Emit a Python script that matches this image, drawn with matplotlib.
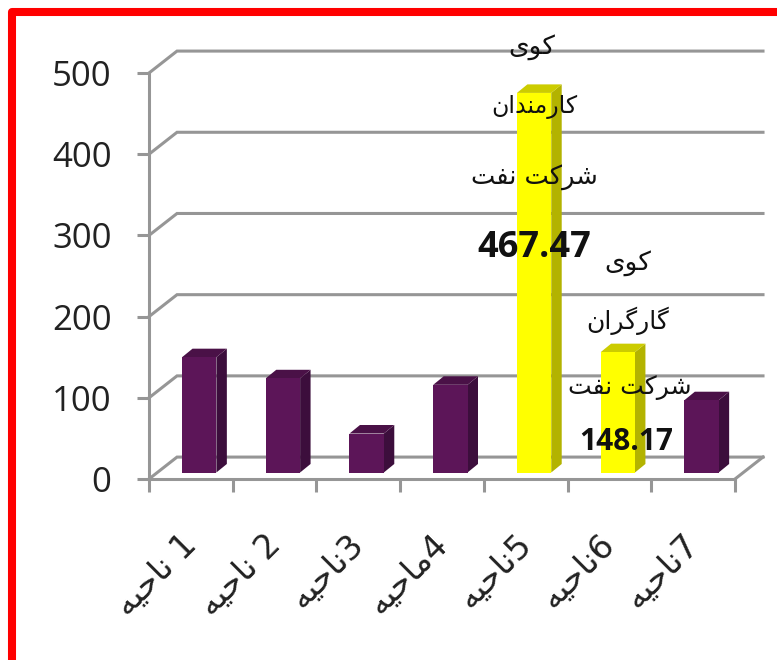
"""Pseudo-3D column chart with Persian labels (out.png, 777x660)."""

import re

import matplotlib
matplotlib.use("Agg")
import matplotlib.pyplot as plt
from matplotlib.lines import Line2D
from matplotlib.patches import Polygon


# --- Data ------------------------------------------------------------------

categories = ["1 ناحیه", "2 ناحیه", "3ناحیه", "4ماحیه", "5ناحیه", "6ناحیه", "7ناحیه"]
values = [142, 116, 48, 108, 467.47, 148.17, 89]
y_ticks = [0, 100, 200, 300, 400, 500]

note_5 = ["کوی", "کارمندان", "شرکت نفت"]
note_6 = ["کوی", "گارگران", "شرکت نفت"]
value_labels = {4: "467.47", 5: "148.17"}


# --- Style -----------------------------------------------------------------

GRID = "#969696"
PURPLE = ("#5c1558", "#4a1147", "#3c0e3c")  # front, top, side
YELLOW = ("#ffff00", "#cccc00", "#b3b300")

WALL_DX, WALL_DY = 0.3345, 27   # depth of the floor, in data units
BAR_DX, BAR_DY = 0.125, 10.5    # depth of a column
BAR_BASE = 8                    # columns stand a bit behind the front edge
BAR_W = 0.41
BAR_SHIFT = 0.1


# --- Arabic shaping --------------------------------------------------------
# matplotlib has no bidi/joining, so map letters to presentation forms by hand.
# forms: isolated, final, initial, medial

FORMS = {
    "ک": "\ufb8e\ufb8f\ufb90\ufb91",
    "گ": "\ufb92\ufb93\ufb94\ufb95",
    "ی": "\ufbfc\ufbfd\ufbfe\ufbff",
    "م": "\ufee1\ufee2\ufee3\ufee4",
    "ن": "\ufee5\ufee6\ufee7\ufee8",
    "ش": "\ufeb5\ufeb6\ufeb7\ufeb8",
    "ت": "\ufe95\ufe96\ufe97\ufe98",
    "ف": "\ufed1\ufed2\ufed3\ufed4",
    "ح": "\ufea1\ufea2\ufea3\ufea4",
    "ه": "\ufee9\ufeea\ufeeb\ufeec",
    "ا": "\ufe8d\ufe8e",
    "د": "\ufea9\ufeaa",
    "ر": "\ufead\ufeae",
    "و": "\ufeed\ufeee",
}


def shape_word(word):
    out = []
    for i, ch in enumerate(word):
        forms = FORMS[ch]
        joins_prev = i > 0 and len(FORMS[word[i - 1]]) == 4
        joins_next = i < len(word) - 1 and len(forms) == 4
        if joins_prev and joins_next:
            out.append(forms[3])
        elif joins_next:
            out.append(forms[2])
        elif joins_prev:
            out.append(forms[1])
        else:
            out.append(forms[0])
    return "".join(reversed(out))


def rtl(text):
    runs = re.findall(r"[0-9]+| +|[^0-9 ]+", text)
    return "".join(r if r[0] in "0123456789 " else shape_word(r) for r in reversed(runs))


# --- Plot ------------------------------------------------------------------

fig = plt.figure(figsize=(7.77, 6.6), dpi=100, facecolor="white")
ax = fig.add_axes([149 / 777, (660 - 479) / 660, 586 / 777, 406 / 660])
ax.set_xlim(0, len(categories))
ax.set_ylim(0, 500)

# axes and ticks
for side in ("top", "right"):
    ax.spines[side].set_visible(False)
for side in ("left", "bottom"):
    ax.spines[side].set_color(GRID)
    ax.spines[side].set_linewidth(2.2)

ax.set_yticks(y_ticks)
ax.tick_params(axis="y", length=9, width=2.2, color=GRID, pad=18, labelsize=25, labelcolor="#222222")
for lab in ax.get_yticklabels():
    lab.set_family("Open Sans")

ax.set_xticks(range(len(categories) + 1))
ax.set_xticklabels([])
ax.tick_params(axis="x", which="major", length=9, width=2.2, color=GRID)
ax.set_xticks([i + 0.37 for i in range(len(categories))], minor=True)
ax.set_xticklabels([rtl(c) for c in categories], minor=True, rotation=45, ha="right",
                   va="top", rotation_mode="anchor", fontsize=24, color="#222222",
                   family="DejaVu Sans")
ax.tick_params(axis="x", which="minor", length=0, pad=35)

# walls: grid lines run from the axis back, then along the back
n = len(categories)
for y in y_ticks:
    ax.plot([0, WALL_DX, n + WALL_DX], [y, y + WALL_DY, y + WALL_DY], color=GRID, lw=2.2,
            clip_on=False, zorder=1, solid_joinstyle="miter")
ax.plot([n, n + WALL_DX], [0, WALL_DY], color=GRID, lw=2.2, clip_on=False, zorder=1)

# columns
for i, val in enumerate(values):
    front, top, side = YELLOW if i in value_labels else PURPLE
    x0 = i + 0.5 + BAR_SHIFT - BAR_W / 2
    x1 = x0 + BAR_W
    y0 = BAR_BASE
    y1 = BAR_BASE + val
    ax.add_patch(Polygon([(x1, y0), (x1 + BAR_DX, y0 + BAR_DY), (x1 + BAR_DX, y1 + BAR_DY), (x1, y1)],
                         facecolor=side, edgecolor="none", clip_on=False, zorder=3))
    ax.add_patch(Polygon([(x0, y1), (x1, y1), (x1 + BAR_DX, y1 + BAR_DY), (x0 + BAR_DX, y1 + BAR_DY)],
                         facecolor=top, edgecolor="none", clip_on=False, zorder=3))
    ax.add_patch(Polygon([(x0, y0), (x1, y0), (x1, y1), (x0, y1)],
                         facecolor=front, edgecolor="none", clip_on=False, zorder=4))


def note(i, text, dy, size, dx=0, **kw):
    """Label placed relative to the top of column i (dy in pixels, up is positive)."""
    ax.annotate(text, xy=(i + 0.5 + BAR_SHIFT, BAR_BASE + values[i]), xytext=(dx, dy),
                textcoords="offset pixels", ha="center", va="center", fontsize=size,
                color="#111111", zorder=6, annotation_clip=False, **kw)


# tall column: notes stacked from the top down
note(4, rtl(note_5[0]), 46, 19, dx=-2, family="DejaVu Sans")
note(4, rtl(note_5[1]), -14, 17, family="DejaVu Sans")
note(4, rtl(note_5[2]), -84, 18.5, family="DejaVu Sans")
note(4, value_labels[4], -155, 26, family="Open Sans", fontweight="bold")

note(5, rtl(note_6[0]), 89, 19, dx=10, family="DejaVu Sans")
note(5, rtl(note_6[1]), 31, 18, dx=10, family="DejaVu Sans")
note(5, rtl(note_6[2]), -35, 18, dx=12, family="DejaVu Sans")
note(5, value_labels[5], -90, 21.5, dx=8, family="Open Sans", fontweight="bold")

# red slide frame, top and left only
fig.add_artist(Line2D([12 / 777, 12 / 777, 1], [0, (660 - 12) / 660, (660 - 12) / 660],
                      color="#ff0000", lw=5.8, solid_joinstyle="round"))

fig.savefig("out.png", dpi=100)
